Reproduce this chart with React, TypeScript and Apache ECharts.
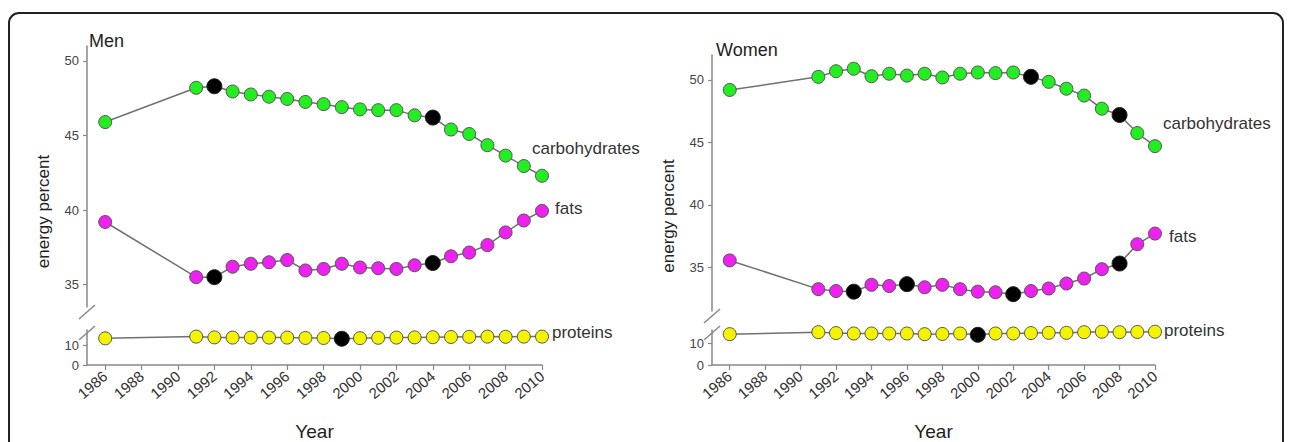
import React, { useEffect, useRef } from "react";
import * as echarts from "echarts";

// ---------- data ----------
const years = [1986, 1991, 1992, 1993, 1994, 1995, 1996, 1997, 1998, 1999, 2000, 2001, 2002, 2003, 2004, 2005, 2006, 2007, 2008, 2009, 2010];
const yearTicks = [1986, 1988, 1990, 1992, 1994, 1996, 1998, 2000, 2002, 2004, 2006, 2008, 2010];
const upperTicks = [35, 40, 45, 50];
const lowerTicks = [0, 10];

const menCarbs = [45.9, 48.2, 48.3, 47.95, 47.75, 47.6, 47.45, 47.25, 47.1, 46.9, 46.75, 46.7, 46.7, 46.35, 46.2, 45.4, 45.1, 44.35, 43.65, 42.95, 42.3];
const menFats = [39.2, 35.5, 35.5, 36.2, 36.4, 36.5, 36.65, 35.95, 36.05, 36.4, 36.15, 36.1, 36.05, 36.3, 36.45, 36.9, 37.15, 37.65, 38.5, 39.3, 39.95];
const menProteins = [13.7, 14.6, 14.2, 14.1, 14.1, 14.1, 14.1, 13.9, 13.9, 13.5, 13.8, 14.0, 14.1, 14.2, 14.3, 14.4, 14.5, 14.6, 14.5, 14.6, 14.6];

const womenCarbs = [49.2, 50.25, 50.7, 50.9, 50.3, 50.5, 50.35, 50.5, 50.2, 50.5, 50.6, 50.55, 50.6, 50.25, 49.85, 49.3, 48.75, 47.7, 47.2, 45.75, 44.7];
const womenFats = [35.55, 33.25, 33.1, 33.05, 33.6, 33.5, 33.65, 33.4, 33.6, 33.25, 33.05, 33.0, 32.85, 33.1, 33.3, 33.7, 34.1, 34.85, 35.3, 36.85, 37.7];
const womenProteins = [14.1, 15.0, 14.6, 14.4, 14.4, 14.4, 14.4, 14.1, 14.2, 14.4, 13.8, 14.4, 14.4, 14.6, 14.7, 14.7, 15.0, 15.2, 15.0, 15.1, 15.2];

const menCarbBlack = [1992, 2004];
const menFatBlack = [1992, 2004];
const menProtBlack = [1999];
const womenCarbBlack = [2003, 2008];
const womenFatBlack = [1993, 1996, 2002, 2008];
const womenProtBlack = [2000];

const panelTitles = ["Men", "Women"];
const seriesNames = ["carbohydrates", "fats", "proteins"];

// ---------- layout / style ----------
const FONT = "Liberation Sans, Arial, Helvetica, sans-serif";
const panels = [
  { left: 87, width: 455, upTop: 46, upH: 261, upMin: 33.5, upMax: 51, lowTop: 330, lowH: 43, lowMax: 18, titleX: 89, titleY: 41,
    labelOffsets: [[-17, -27], [6, -2], [3, -4]] },
  { left: 712, width: 443, upTop: 55, upH: 256, upMin: 31.5, upMax: 52, lowTop: 330, lowH: 43, lowMax: 16, titleX: 716, titleY: 50,
    labelOffsets: [[1, -23], [7, 3], [2, -1]] },
];
const colors = ["#22ee22", "#ee22ee", "#f4f400"];

function build(values: number[], blacks: number[], color: string, name: string, offset: number[], xi: number) {
  return {
    type: "line",
    name,
    xAxisIndex: xi,
    yAxisIndex: xi,
    symbol: "circle",
    symbolSize: 13,
    lineStyle: { color: "#707070", width: 1.5 },
    itemStyle: { color, borderColor: "#555", borderWidth: 1 },
    z: 3,
    data: years.map((y, i) => {
      const item: any = { value: [y, values[i]] };
      if (blacks.includes(y)) {
        item.itemStyle = { color: "#000", borderColor: "#222" };
        item.symbolSize = 15;
      }
      if (i === years.length - 1) {
        item.label = {
          show: true,
          position: "right",
          distance: 0,
          offset,
          formatter: name,
          fontSize: 17,
          fontFamily: FONT,
          color: "#333",
        };
      }
      return item;
    }),
  };
}

export default function App() {
  const ref = useRef<HTMLDivElement>(null);
  useEffect(() => {
    if (!ref.current) return;
    const chart = echarts.init(ref.current, undefined, { renderer: "svg" });
    const grids: any[] = [];
    const xAxes: any[] = [];
    const yAxes: any[] = [];
    const graphics: any[] = [];
    panels.forEach((p, k) => {
      grids.push({ left: p.left, top: p.upTop, width: p.width, height: p.upH });
      grids.push({ left: p.left, top: p.lowTop, width: p.width, height: p.lowH });
      xAxes.push({ type: "value", gridIndex: 2 * k, min: 1985, max: 2010, show: false });
      xAxes.push({
        type: "value", gridIndex: 2 * k + 1, min: 1985, max: 2010,
        axisLine: { show: true, onZero: false, lineStyle: { color: "#888", width: 1.5 } },
        axisTick: { show: true, customValues: yearTicks, length: 5, lineStyle: { color: "#888", width: 1.2 } },
        axisLabel: {
          customValues: yearTicks, rotate: 40, fontSize: 15, color: "#333", fontFamily: FONT, margin: 9,
          formatter: (v: number) => String(v),
        },
        splitLine: { show: false },
        name: "Year", nameLocation: "middle", nameGap: 57,
        nameTextStyle: { fontSize: 19, color: "#222", fontFamily: FONT },
      });
      const yCommon = {
        type: "value",
        axisLine: { show: true, onZero: false, lineStyle: { color: "#888", width: 1.5 } },
        axisTick: { show: true, length: 4, lineStyle: { color: "#888", width: 1.2 } },
        splitLine: { show: false },
      };
      yAxes.push({
        ...yCommon, gridIndex: 2 * k, min: p.upMin, max: p.upMax,
        axisTick: { ...yCommon.axisTick, customValues: upperTicks },
        axisLabel: { customValues: upperTicks, fontSize: 13, color: "#444", fontFamily: FONT, margin: 8, formatter: (v: number) => String(v) },
      });
      yAxes.push({
        ...yCommon, gridIndex: 2 * k + 1, min: 0, max: p.lowMax,
        axisTick: { ...yCommon.axisTick, customValues: lowerTicks },
        axisLabel: { customValues: lowerTicks, fontSize: 13, color: "#444", fontFamily: FONT, margin: 8, formatter: (v: number) => String(v) },
      });
      // break marks
      const bY1 = p.upTop + p.upH + 5;
      const bY2 = p.lowTop + 3;
      [bY1, bY2].forEach((by) => {
        graphics.push({
          type: "line", shape: { x1: p.left - 8, y1: by + 7, x2: p.left + 8, y2: by - 7 },
          style: { stroke: "#888", lineWidth: 1.5 }, z: 10,
        });
      });
      graphics.push({
        type: "text", x: p.titleX, y: p.titleY,
        style: { text: panelTitles[k], font: `18px ${FONT}`, fill: "#222", textAlign: "left", textVerticalAlign: "middle" },
      });
      graphics.push({
        type: "text", x: p.left - 44, y: (p.upTop + p.lowTop + p.lowH) / 2 + 2, rotation: Math.PI / 2,
        style: { text: "energy percent", font: `17px ${FONT}`, fill: "#222", textAlign: "center", textVerticalAlign: "middle" },
      });
    });
    graphics.push({
      type: "rect", shape: { x: 9, y: 13, width: 1274, height: 470, r: 10 },
      style: { fill: "none", stroke: "#222", lineWidth: 2 }, z: 0,
    });

    const series = [
      build(menCarbs, menCarbBlack, colors[0], seriesNames[0], panels[0].labelOffsets[0], 0),
      build(menFats, menFatBlack, colors[1], seriesNames[1], panels[0].labelOffsets[1], 0),
      build(menProteins, menProtBlack, colors[2], seriesNames[2], panels[0].labelOffsets[2], 1),
      build(womenCarbs, womenCarbBlack, colors[0], seriesNames[0], panels[1].labelOffsets[0], 2),
      build(womenFats, womenFatBlack, colors[1], seriesNames[1], panels[1].labelOffsets[1], 2),
      build(womenProteins, womenProtBlack, colors[2], seriesNames[2], panels[1].labelOffsets[2], 3),
    ];

    chart.setOption({
      animation: false,
      backgroundColor: "#fff",
      textStyle: { fontFamily: FONT },
      grid: grids,
      xAxis: xAxes,
      yAxis: yAxes,
      series,
      graphic: graphics,
    });
    return () => chart.dispose();
  }, []);
  return <div ref={ref} style={{ position: "fixed", left: 0, top: 0, width: 1290, height: 442 }} />;
}
